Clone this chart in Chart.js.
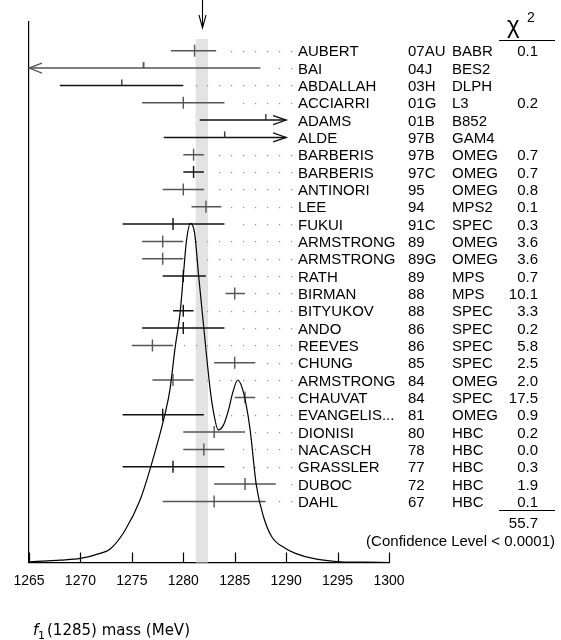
<!DOCTYPE html>
<html>
<head>
<meta charset="utf-8">
<script src="https://cdn.jsdelivr.net/npm/chart.js@4.4.1/dist/chart.umd.min.js"></script>
<style>
  html, body { margin: 0; padding: 0; background: #fff; }
  canvas { display: block; }
</style>
</head>
<body>
<canvas id="ideogram" width="561" height="640"></canvas>
<script>
const names = ['AUBERT', 'BAI', 'ABDALLAH', 'ACCIARRI', 'ADAMS', 'ALDE', 'BARBERIS', 'BARBERIS', 'ANTINORI', 'LEE',
  'FUKUI', 'ARMSTRONG', 'ARMSTRONG', 'RATH', 'BIRMAN', 'BITYUKOV', 'ANDO', 'REEVES', 'CHUNG', 'ARMSTRONG',
  'CHAUVAT', 'EVANGELIS...', 'DIONISI', 'NACASCH', 'GRASSLER', 'DUBOC', 'DAHL'];
const refs = ['07AU', '04J', '03H', '01G', '01B', '97B', '97B', '97C', '95', '94',
  '91C', '89', '89G', '89', '88', '88', '86', '86', '85', '84',
  '84', '81', '80', '78', '77', '72', '67'];
const exps = ['BABR', 'BES2', 'DLPH', 'L3', 'B852', 'GAM4', 'OMEG', 'OMEG', 'OMEG', 'MPS2',
  'SPEC', 'OMEG', 'OMEG', 'MPS', 'MPS', 'SPEC', 'SPEC', 'SPEC', 'SPEC', 'OMEG',
  'SPEC', 'OMEG', 'HBC', 'HBC', 'HBC', 'HBC', 'HBC'];
const chi2 = ['0.1', '', '', '0.2', '', '', '0.7', '0.7', '0.8', '0.1',
  '0.3', '3.6', '3.6', '0.7', '10.1', '3.3', '0.2', '5.8', '2.5', '2.0',
  '17.5', '0.9', '0.2', '0.0', '0.3', '1.9', '0.1'];

// measured mass and the visible ends of each error bar (MeV)
const centers = [1281.1, 1276.1, 1274.0, 1280.0, 1288.0, 1284.0, 1281.0, 1281.0, 1280.0, 1282.2,
  1279.0, 1278.0, 1278.0, 1280.0, 1285.0, 1280.0, 1280.0, 1277.0, 1285.0, 1279.0,
  1286.0, 1278.0, 1283.0, 1282.0, 1279.0, 1286.0, 1283.0];
const lows = [1278.8, 1265.0, 1268.0, 1276.0, 1281.6, 1278.1, 1280.0, 1280.0, 1278.0, 1280.8,
  1274.1, 1276.0, 1276.0, 1278.0, 1284.1, 1279.0, 1276.0, 1275.0, 1283.0, 1277.0,
  1285.0, 1274.1, 1280.0, 1280.0, 1274.1, 1283.0, 1278.0];
const highs = [1283.2, 1287.5, 1280.0, 1284.0, 1290.0, 1290.0, 1282.0, 1282.0, 1282.0, 1283.7,
  1284.0, 1280.0, 1280.0, 1282.2, 1286.0, 1281.0, 1284.0, 1279.0, 1287.0, 1281.0,
  1287.0, 1282.0, 1286.0, 1284.0, 1284.0, 1289.0, 1288.0];
const arrows = ['', 'left', '', '', 'right', 'right', '', '', '', '',
  '', '', '', '', '', '', '', '', '', '',
  '', '', '', '', '', '', ''];
const dark = [0, 0, 1, 0, 1, 1, 0, 1, 0, 0,
  1, 0, 0, 1, 0, 1, 1, 0, 0, 0,
  0, 1, 0, 0, 1, 0, 0];

// ideogram curve (arbitrary height, peak = 1)
const curveMass = [1265.0, 1266.2, 1268.0, 1270.0, 1271.9, 1272.9, 1274.3, 1275.8, 1276.8, 1278.2,
  1278.7, 1279.2, 1279.7, 1280.0, 1280.3, 1280.7, 1281.1, 1281.5, 1282.0, 1282.6,
  1282.9, 1283.4, 1283.9, 1284.4, 1284.8, 1285.3, 1285.7, 1286.1, 1286.5, 1287.1,
  1287.8, 1288.6, 1289.9, 1290.9, 1292.6, 1294.9, 1297.5, 1300.0];
const curveHeight = [0.002, 0.004, 0.007, 0.012, 0.027, 0.040, 0.093, 0.184, 0.278, 0.435,
  0.509, 0.632, 0.739, 0.843, 0.946, 1.000, 0.971, 0.843, 0.690, 0.514,
  0.450, 0.391, 0.405, 0.450, 0.500, 0.538, 0.517, 0.467, 0.391, 0.228,
  0.135, 0.076, 0.042, 0.027, 0.012, 0.003, 0.001, 0.000];

const avgMass = 1281.8;
const avgErr = 0.6;
const xTicks = [1265, 1270, 1275, 1280, 1285, 1290, 1295, 1300];
const chiTotal = '55.7';
const confText = '(Confidence Level < 0.0001)';

const GRAY = '#555';
const BLACK = '#111';
const TEXT_FONT = '15px "Liberation Sans", Arial, sans-serif';

function colorOf(i) {
  return dark[i] ? BLACK : GRAY;
}

// half tick (only above the bar) for the values not used in the fit
function halfTick() {
  const c = document.createElement('canvas');
  c.width = 3;
  c.height = 14;
  const g = c.getContext('2d');
  g.fillStyle = '#333';
  g.fillRect(1, 1, 1.4, 6);
  return c;
}
const halfTickImg = halfTick();

const barSets = names.map((n, i) => ({
  type: 'line',
  label: n,
  data: [{ x: lows[i], y: i + 1 }, { x: highs[i], y: i + 1 }],
  yAxisID: 'y',
  borderColor: colorOf(i),
  borderWidth: 1.5,
  pointRadius: 0,
  order: 2
}));

const tickSet = {
  type: 'scatter',
  label: 'values',
  data: centers.map((c, i) => ({ x: c, y: i + 1 })),
  yAxisID: 'y',
  pointStyle: centers.map((c, i) => chi2[i] === '' ? halfTickImg : 'line'),
  rotation: centers.map((c, i) => chi2[i] === '' ? 0 : 90),
  pointRadius: 6,
  pointHoverRadius: 6,
  pointBorderWidth: 1.4,
  pointBorderColor: centers.map((c, i) => colorOf(i)),
  pointBackgroundColor: centers.map((c, i) => colorOf(i)),
  order: 1
};

const curveSet = {
  type: 'line',
  label: 'ideogram',
  data: curveMass.map((m, i) => ({ x: m, y: curveHeight[i] })),
  yAxisID: 'yc',
  borderColor: '#000',
  borderWidth: 1.2,
  pointRadius: 0,
  cubicInterpolationMode: 'monotone',
  order: 0
};

function arrowHead(ctx, tipX, tipY, dir, len, half) {
  ctx.beginPath();
  ctx.moveTo(tipX - dir * len, tipY - half);
  ctx.lineTo(tipX, tipY);
  ctx.lineTo(tipX - dir * len, tipY + half);
  ctx.stroke();
}

const decor = {
  id: 'decor',
  beforeDatasetsDraw(chart) {
    const { ctx, chartArea, scales: { x, y } } = chart;
    ctx.save();
    // average band
    const b0 = x.getPixelForValue(avgMass - avgErr);
    const b1 = x.getPixelForValue(avgMass + avgErr);
    ctx.fillStyle = '#e3e3e3';
    ctx.fillRect(b0, chartArea.top + 17, b1 - b0, chartArea.bottom - chartArea.top - 17);
    // dotted leaders to the names
    ctx.fillStyle = '#8a8a8a';
    names.forEach((n, i) => {
      const py = Math.round(y.getPixelForValue(i + 1));
      const end = x.getPixelForValue(highs[i]);
      for (let dx = 290.7; dx > end + 8; dx -= 11.9) {
        ctx.fillRect(Math.round(dx), py, 1.2, 1.2);
      }
    });
    ctx.restore();
  },
  afterDatasetsDraw(chart) {
    const { ctx, chartArea, scales: { x, y } } = chart;
    ctx.save();
    ctx.lineWidth = 1.3;
    names.forEach((n, i) => {
      if (!arrows[i]) return;
      const py = y.getPixelForValue(i + 1);
      ctx.strokeStyle = colorOf(i);
      if (arrows[i] === 'left') arrowHead(ctx, x.getPixelForValue(lows[i]), py, -1, 13, 5);
      else arrowHead(ctx, x.getPixelForValue(highs[i]), py, 1, 13, 4.5);
    });
    // inward ticks on the mass axis
    ctx.strokeStyle = '#000';
    ctx.lineWidth = 1.2;
    xTicks.forEach(v => {
      const px = Math.round(x.getPixelForValue(v)) + 0.5;
      ctx.beginPath();
      ctx.moveTo(px, chartArea.bottom);
      ctx.lineTo(px, chartArea.bottom - 10);
      ctx.stroke();
    });
    ctx.restore();
  },
  afterDraw(chart) {
    const { ctx, scales: { x, y } } = chart;
    ctx.save();
    // arrow marking the average
    const ax = Math.round(x.getPixelForValue(avgMass)) + 0.5;
    ctx.strokeStyle = '#000';
    ctx.lineWidth = 1.1;
    ctx.beginPath();
    ctx.moveTo(ax, 0);
    ctx.lineTo(ax, 28);
    ctx.stroke();
    ctx.beginPath();
    ctx.moveTo(ax - 3.5, 15);
    ctx.lineTo(ax, 28);
    ctx.lineTo(ax + 3.5, 15);
    ctx.stroke();

    // table of measurements
    ctx.fillStyle = '#000';
    ctx.font = TEXT_FONT;
    ctx.textBaseline = 'alphabetic';
    names.forEach((n, i) => {
      const py = y.getPixelForValue(i + 1) + 5.5;
      ctx.textAlign = 'left';
      ctx.fillText(n, 298, py);
      ctx.fillText(refs[i], 408, py);
      ctx.fillText(exps[i], 452, py);
      ctx.textAlign = 'right';
      ctx.fillText(chi2[i], 538, py);
    });

    // chi2 header, sum and confidence level
    ctx.textAlign = 'left';
    ctx.font = '24px "Liberation Sans", Arial, sans-serif';
    ctx.fillText('\u03C7', 507, 33);
    ctx.font = '14px "Liberation Sans", Arial, sans-serif';
    ctx.fillText('2', 527, 22);
    ctx.lineWidth = 1;
    ctx.beginPath();
    ctx.moveTo(499, 40.5);
    ctx.lineTo(555, 40.5);
    ctx.moveTo(499, 510.5);
    ctx.lineTo(555, 510.5);
    ctx.stroke();
    ctx.font = TEXT_FONT;
    ctx.textAlign = 'right';
    ctx.fillText(chiTotal, 538, 528);
    ctx.fillText(confText, 555, 546);

    // axis title: f1(1285) mass (MeV)
    ctx.textAlign = 'left';
    ctx.font = 'italic 15px "DejaVu Sans", sans-serif';
    ctx.fillText('f', 33, 635);
    ctx.font = '11px "DejaVu Sans", sans-serif';
    ctx.fillText('1', 38, 639);
    ctx.font = '15px "DejaVu Sans", sans-serif';
    ctx.fillText('(1285) mass (MeV)', 47, 635);
    ctx.restore();
  }
};

new Chart(document.getElementById('ideogram'), {
  data: { datasets: [curveSet, tickSet, ...barSets] },
  options: {
    responsive: false,
    animation: false,
    devicePixelRatio: 1,
    layout: { padding: { left: 29, right: 172, top: 22, bottom: 0 } },
    plugins: {
      legend: { display: false },
      tooltip: { enabled: false }
    },
    scales: {
      x: {
        type: 'linear',
        min: 1265,
        max: 1300,
        afterBuildTicks: scale => { scale.ticks = xTicks.map(v => ({ value: v })); },
        ticks: {
          callback: v => String(v),
          color: '#000',
          font: { family: '"Liberation Sans", Arial, sans-serif', size: 14 },
          padding: 10,
          maxRotation: 0
        },
        grid: { display: false, drawTicks: false },
        border: { display: true, color: '#000', width: 1.2 },
        afterFit: scale => { scale.height = 77.5; }
      },
      y: {
        type: 'linear',
        min: -0.656,
        max: 30.524,
        reverse: true,
        position: 'left',
        ticks: { display: false },
        grid: { display: false, drawTicks: false },
        border: { display: true, color: '#000', width: 1.2 },
        afterFit: scale => { scale.width = 0; }
      },
      yc: {
        type: 'linear',
        min: 0,
        max: 1.5935,
        display: false
      }
    }
  },
  plugins: [decor]
});
</script>
</body>
</html>
